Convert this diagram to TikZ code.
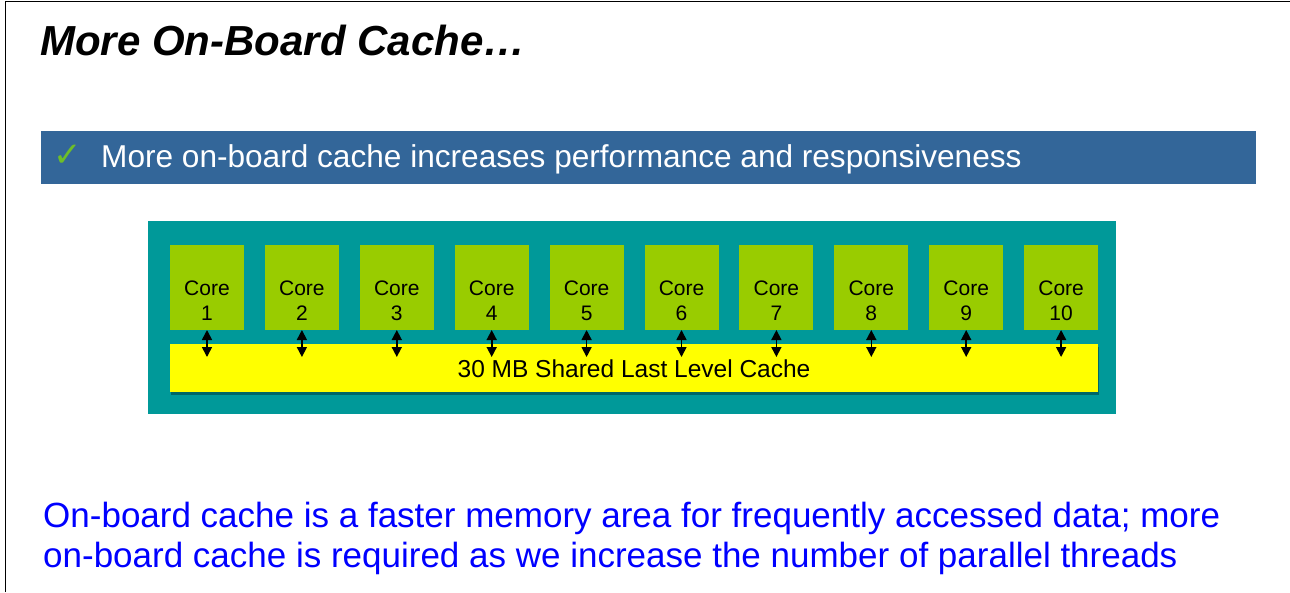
\documentclass[tikz,border=0pt]{standalone}
\usepackage{fontspec}
\setmainfont{Liberation Sans}
\newfontfamily\symfont{DejaVu Sans}
\usetikzlibrary{arrows.meta}
\definecolor{bannerblue}{RGB}{51,102,153}
\definecolor{chipteal}{RGB}{0,153,153}
\definecolor{shadowteal}{RGB}{0,102,102}
\definecolor{coregreen}{RGB}{153,204,0}
\definecolor{cacheyellow}{RGB}{255,255,0}
\definecolor{checkgreen}{RGB}{110,190,40}
\definecolor{noteblue}{RGB}{0,0,255}
\tikzset{
  box/.style={anchor=north west, inner sep=0pt, outer sep=0pt},
  corebox/.style={box, fill=coregreen, minimum width=74pt, minimum height=85pt},
  corelabel/.style={anchor=base, inner sep=0pt, align=center, font=\fontsize{21}{25}\selectfont},
  dblarrow/.style={line width=1.6pt, {Triangle[length=10pt,width=10pt]}-{Triangle[length=10pt,width=10pt]}},
  txt/.style={anchor=base west, inner sep=0pt},
}
\begin{document}
\begin{tikzpicture}[x=1pt,y=-1pt]
\useasboundingbox (0,0) rectangle (1290,592);
% frame
\coordinate (frameTL) at (5.5,1.5);
\coordinate (frameTR) at (1290,1.5);
\coordinate (frameBL) at (5.5,592);
\draw[line width=1.5pt] (frameBL) -- (frameTL) -- (frameTR);
% title
\node[txt, font=\fontsize{42}{50}\selectfont\bfseries\itshape] (title) at (40,55) {More On-Board Cache…};
% banner
\node[box, fill=bannerblue, minimum width=1215pt, minimum height=53pt] (banner) at (41,131) {};
\node[txt, text=checkgreen, font=\symfont\fontsize{34}{38}\selectfont] (check) at (53,166) {✓};
\node[txt, text=white, font=\fontsize{31.6}{36}\selectfont] (bannertext) at (101,167.5) {More on-board cache increases performance and responsiveness};
% chip
\node[box, fill=chipteal, minimum width=968pt, minimum height=193pt] (chip) at (148,221) {};
\fill[shadowteal] (171,347) rectangle (1099,395);
\node[box, fill=cacheyellow, minimum width=928pt, minimum height=48pt] (cache) at (170,344) {};
\node[anchor=base, inner sep=0pt, font=\fontsize{24.5}{28}\selectfont] (cachetext) at (634,377.5) {30 MB Shared Last Level Cache};
\foreach \i in {1,...,10}{
  \pgfmathsetmacro{\xx}{170+(\i-1)*94.9}
  \node[corebox] (c\i) at (\xx,245) {};
  \node[corelabel] (t\i) at (\xx+37,320) {Core\\\i};
  \coordinate (a\i) at (\xx+37,357);
  \draw[dblarrow] (c\i.south) -- (a\i);
}
% note
\node[txt, text=noteblue, font=\fontsize{35}{40}\selectfont] (note1) at (43,527) {On-board cache is a faster memory area for frequently accessed data; more};
\node[txt, text=noteblue, font=\fontsize{35}{40}\selectfont] (note2) at (43,567) {on-board cache is required as we increase the number of parallel threads};
\end{tikzpicture}
\end{document}
